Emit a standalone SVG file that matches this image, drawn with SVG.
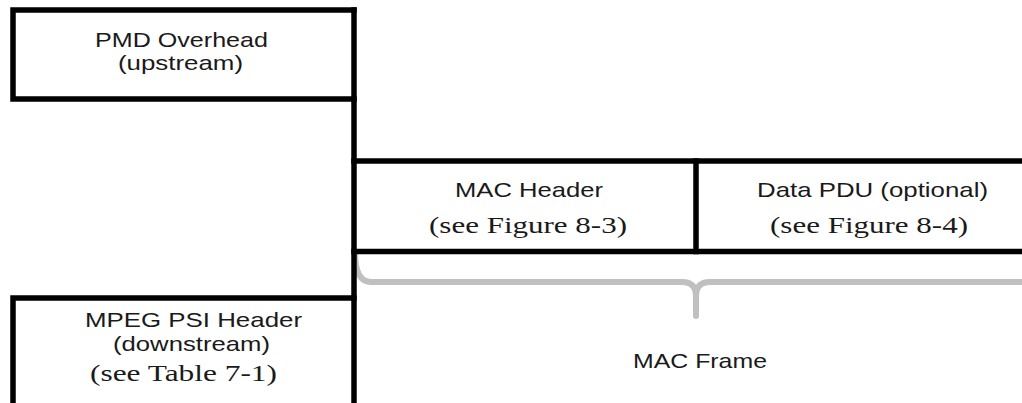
<svg xmlns="http://www.w3.org/2000/svg" width="1022" height="403" viewBox="0 0 1022 403">
<style>
.ln{stroke:#000;stroke-width:5.5;fill:none;stroke-linecap:square}
.br{stroke:#c0c0c0;stroke-width:6;fill:none;stroke-linecap:round;stroke-linejoin:round}
.s{font-family:"Liberation Sans",Arial,sans-serif;font-size:21px;fill:#1a1a1a}
.t{font-family:"Liberation Serif","Times New Roman",serif;font-size:24px;fill:#1a1a1a}
</style>
<rect width="1022" height="403" fill="#fff"/>
<g id="connectors">
<path class="br" d="M355,252 Q355,282 371,282 L682,282 Q696,282 696,296 L696,316 M696,296 Q696,282 710,282 L1022,282"/>
<line class="ln" x1="354" y1="10" x2="354" y2="406"/>
</g>
<g id="pmd">
<path class="ln" d="M354,10 L13,10 L13,99 L354,99"/>
<text class="s" x="95" y="47" textLength="173" lengthAdjust="spacingAndGlyphs">PMD Overhead</text>
<text class="s" x="118" y="70" textLength="125" lengthAdjust="spacingAndGlyphs">(upstream)</text>
</g>
<g id="mac-header">
<line class="ln" x1="354" y1="161" x2="1025" y2="161"/>
<line class="ln" x1="354" y1="251.5" x2="1025" y2="251.5"/>
<line class="ln" x1="696" y1="161" x2="696" y2="251.5"/>
<text class="s" x="455" y="197" textLength="148" lengthAdjust="spacingAndGlyphs">MAC Header</text>
<text class="t" x="429" y="233" textLength="198" lengthAdjust="spacingAndGlyphs">(see Figure 8-3)</text>
</g>
<g id="data-pdu">
<text class="s" x="757" y="197" textLength="231" lengthAdjust="spacingAndGlyphs">Data PDU (optional)</text>
<text class="t" x="770" y="233" textLength="198" lengthAdjust="spacingAndGlyphs">(see Figure 8-4)</text>
</g>
<g id="mpeg">
<path class="ln" d="M354,298 L13,298 L13,410"/>
<text class="s" x="85" y="327" textLength="217" lengthAdjust="spacingAndGlyphs">MPEG PSI Header</text>
<text class="s" x="113" y="351" textLength="157" lengthAdjust="spacingAndGlyphs">(downstream)</text>
<text class="t" x="90" y="381" textLength="187" lengthAdjust="spacingAndGlyphs">(see Table 7-1)</text>
</g>
<g id="mac-frame">
<text class="s" x="633" y="368" textLength="134" lengthAdjust="spacingAndGlyphs">MAC Frame</text>
</g>
</svg>
